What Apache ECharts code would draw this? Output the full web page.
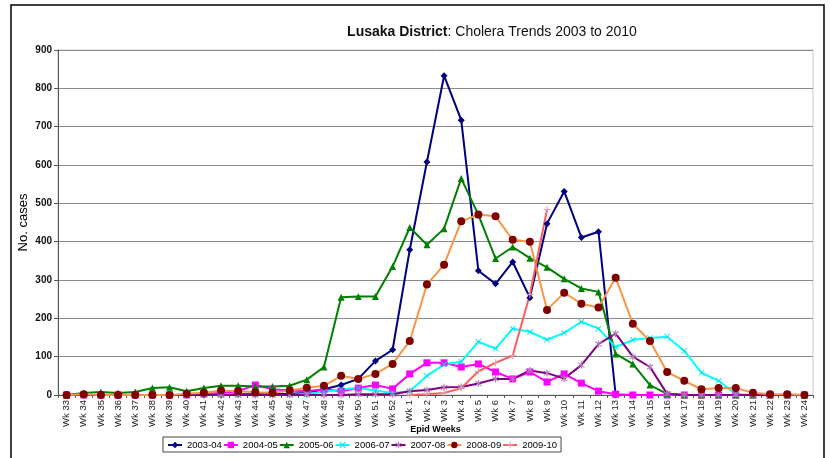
<!DOCTYPE html>
<html>
<head>
<meta charset="utf-8">
<script src="https://cdn.jsdelivr.net/npm/echarts@6/dist/echarts.min.js"></script>
<style>
  html, body { margin: 0; padding: 0; background: #fff; }
  #chart { width: 830px; height: 458px; }
</style>
</head>
<body>
<div id="chart"></div>
<script>
"use strict";

// epid weeks: Wk 33 .. Wk 52, then Wk 1 .. Wk 24
const weeks = [
  "Wk 33","Wk 34","Wk 35","Wk 36","Wk 37","Wk 38","Wk 39","Wk 40","Wk 41","Wk 42",
  "Wk 43","Wk 44","Wk 45","Wk 46","Wk 47","Wk 48","Wk 49","Wk 50","Wk 51","Wk 52",
  "Wk 1","Wk 2","Wk 3","Wk 4","Wk 5","Wk 6","Wk 7","Wk 8","Wk 9","Wk 10",
  "Wk 11","Wk 12","Wk 13","Wk 14","Wk 15","Wk 16","Wk 17","Wk 18","Wk 19","Wk 20",
  "Wk 21","Wk 22","Wk 23","Wk 24"
];

const s2003 = [0,0,0,0,0,0,0,0,0,0, 2,2,2,3,5,15,26,42,89,118,
  379,608,833,717,324,290,347,254,447,531, 411,426,0,null,null,null,null,null,null,null,
  null,null,null,null];
const s2004 = [0,0,0,0,0,0,0,0,3,5, 10,26,15,12,10,15,10,18,26,16,
  55,84,84,73,81,60,42,60,34,55, 31,10,2,0,0,0,0,0,0,0,
  0,0,0,0];
const s2005 = [0,5,8,5,8,18,20,10,18,24, 24,22,22,24,40,73,255,257,257,335,
  437,392,434,565,470,356,386,357,333,303, 278,269,107,81,26,3,0,0,0,0,
  0,0,0,0];
const s2006 = [0,0,0,0,0,0,0,0,0,0, 0,0,0,0,3,8,15,18,12,5,
  10,50,80,87,139,121,173,165,144,162, 191,173,125,144,149,152,115,58,37,2,
  0,0,0,0];
const s2007 = [0,0,0,0,0,0,0,0,0,0, 0,0,0,0,0,0,0,2,2,2,
  10,13,20,21,30,42,42,64,57,43, 78,133,160,100,73,3,0,0,0,0,
  0,0,0,0];
const s2008 = [0,2,0,0,0,0,0,3,6,12, 10,7,6,12,19,24,50,42,55,81,
  141,288,340,453,471,466,405,400,222,267, 238,228,306,186,141,60,37,15,18,18,
  6,2,2,0];
const s2009 = [null,null,null,null,null,null,null,null,null,null, null,null,null,null,null,null,null,null,null,null,
  0,2,5,18,62,84,103,262,484,null, null,null,null,null,null,null,null,null,null,null,
  null,null,null,null];

const yTicks = [0, 100, 200, 300, 400, 500, 600, 700, 800, 900];

const FONT = "'Liberation Sans', Arial, sans-serif";

const crossX = "path://M1,0L5,4L9,0L10,1L6,5L10,9L9,10L5,6L1,10L0,9L4,5L0,1Z";
const star = "path://M4.3,0H5.7V3.3L8.6,1.2L9.4,2.3L6.4,4.6V5.4L9.4,7.7L8.6,8.8L5.7,6.7V10H4.3V6.7L1.4,8.8L0.6,7.7L3.6,5.4V4.6L0.6,2.3L1.4,1.2L4.3,3.3Z";
const plus = "path://M4.3,0H5.7V4.3H10V5.7H5.7V10H4.3V5.7H0V4.3H4.3Z";

function line(name, data, lineColor, markColor, symbol, size) {
  return {
    name: name,
    type: "line",
    data: data,
    symbol: symbol,
    symbolSize: size,
    showAllSymbol: true,
    connectNulls: false,
    lineStyle: { color: lineColor, width: 2 },
    itemStyle: { color: markColor },
    emphasis: { disabled: true },
    animation: false
  };
}

const chart = echarts.init(document.getElementById("chart"));

chart.setOption({
  backgroundColor: "#fff",
  title: {
    text: "{b|Lusaka District}{n|: Cholera Trends 2003 to 2010}",
    left: 487,
    textAlign: "center",
    top: 20,
    textStyle: {
      rich: {
        b: { fontFamily: FONT, fontSize: 14, fontWeight: "bold", color: "#111" },
        n: { fontFamily: FONT, fontSize: 14, fontWeight: "normal", color: "#111" }
      }
    }
  },
  legend: {
    left: 163,
    top: 437,
    itemWidth: 14,
    itemHeight: 8,
    itemGap: 1,
    padding: [3, 4, 2, 4],
    borderColor: "#444",
    borderWidth: 1,
    textStyle: { fontFamily: FONT, fontSize: 9.5, color: "#000" },
    data: ["2003-04","2004-05","2005-06","2006-07","2007-08","2008-09","2009-10"]
  },
  grid: {
    left: 58,
    right: 17,
    top: 50,
    bottom: 63,
    show: true,
    borderColor: "#c8c8c8",
    borderWidth: 1
  },
  graphic: [{
    type: "rect",
    shape: { x: 11, y: 5, width: 813, height: 480 },
    style: { fill: null, stroke: "#000", lineWidth: 1.5 },
    silent: true
  }],
  xAxis: {
    type: "category",
    data: weeks,
    boundaryGap: true,
    name: "Epid Weeks",
    nameLocation: "middle",
    nameGap: 30,
    nameMoveOverlap: false,
    nameTextStyle: { fontFamily: FONT, fontSize: 9, fontWeight: "bold", color: "#000" },
    axisLine: { lineStyle: { color: "#555", width: 1 } },
    axisTick: { show: true, length: 3, lineStyle: { color: "#555" }, alignWithLabel: false },
    axisLabel: {
      interval: 0,
      rotate: 90,
      fontFamily: FONT,
      fontSize: 9.5,
      color: "#222",
      margin: 5
    },
    splitLine: { show: false }
  },
  yAxis: {
    type: "value",
    min: yTicks[0],
    max: yTicks[yTicks.length - 1],
    interval: 100,
    name: "No. cases",
    nameLocation: "middle",
    nameGap: 28,
    nameMoveOverlap: false,
    nameTextStyle: { fontFamily: FONT, fontSize: 13, color: "#000" },
    axisLine: { show: true, lineStyle: { color: "#555", width: 1 } },
    axisTick: { show: true, length: 4, lineStyle: { color: "#555" } },
    axisLabel: { fontFamily: FONT, fontSize: 10, fontWeight: "bold", color: "#111", margin: 6 },
    splitLine: { show: true, lineStyle: { color: "#8c8c8c", width: 1 } }
  },
  series: [
    line("2003-04", s2003, "#000080", "#000080", "diamond", 7),
    line("2004-05", s2004, "#ff00ff", "#ff00ff", "rect", 7),
    line("2005-06", s2005, "#008000", "#008000", "triangle", 7),
    line("2006-07", s2006, "#00ffff", "#00e0e0", crossX, 6),
    line("2007-08", s2007, "#800080", "#b07ab8", star, 7),
    line("2008-09", s2008, "#f79646", "#800000", "circle", 8),
    line("2009-10", s2009, "#ff5c5c", "#d8a8b8", plus, 7)
  ]
});
</script>
</body>
</html>
